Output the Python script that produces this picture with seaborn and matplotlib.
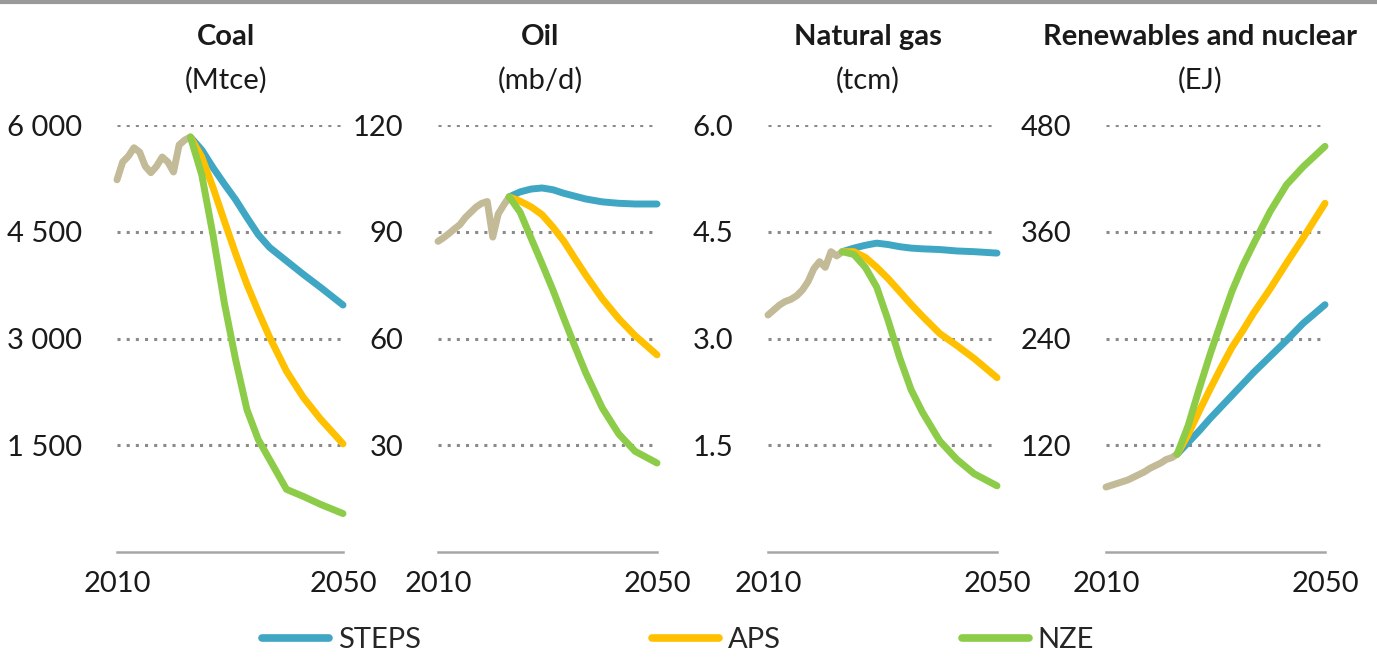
import pandas as pd
import matplotlib.pyplot as plt
import seaborn as sns
from matplotlib.lines import Line2D

# Historical years and projection years
hist_years = list(range(2010, 2024))
proj_years = [2023, 2025, 2027, 2029, 2031, 2033, 2035, 2037, 2040, 2043, 2046, 2050]

# Coal (Mtce)
coal_hist = [5230, 5480, 5560, 5680, 5620, 5420, 5330, 5420, 5550, 5480, 5340, 5720, 5790, 5830]
coal_steps = [5830, 5650, 5400, 5170, 4950, 4700, 4460, 4280, 4090, 3900, 3720, 3470]
coal_aps = [5830, 5550, 5120, 4650, 4190, 3760, 3380, 3020, 2540, 2170, 1870, 1520]
coal_nze = [5830, 5300, 4450, 3500, 2700, 2000, 1580, 1300, 880, 780, 670, 540]

# Oil (mb/d)
oil_hist = [87.3, 88.3, 89.5, 90.8, 92.0, 94.0, 95.5, 97.0, 98.0, 98.5, 88.5, 95.0, 97.5, 99.8]
oil_steps = [99.8, 101.2, 102.0, 102.3, 101.8, 100.8, 100.0, 99.2, 98.4, 98.0, 97.8, 97.8]
oil_aps = [99.8, 98.6, 97.0, 94.8, 91.3, 87.3, 82.5, 77.8, 71.2, 65.6, 60.8, 55.4]
oil_nze = [99.8, 95.5, 88.2, 81.0, 73.6, 65.6, 57.8, 50.3, 40.5, 33.2, 28.3, 25.0]

# Natural gas (tcm)
gas_hist = [3.33, 3.40, 3.47, 3.52, 3.55, 3.60, 3.68, 3.80, 3.98, 4.08, 4.00, 4.22, 4.16, 4.22]
gas_steps = [4.22, 4.27, 4.31, 4.34, 4.32, 4.29, 4.27, 4.26, 4.25, 4.23, 4.22, 4.20]
gas_aps = [4.22, 4.22, 4.14, 4.00, 3.84, 3.66, 3.48, 3.31, 3.07, 2.90, 2.72, 2.45]
gas_nze = [4.22, 4.18, 4.00, 3.72, 3.25, 2.73, 2.28, 1.96, 1.56, 1.30, 1.10, 0.93]

# Renewables and nuclear (EJ)
ren_hist = [73, 75, 77, 79, 81, 84, 87, 90, 94, 97, 100, 104, 106, 110]
ren_steps = [110, 123, 136, 150, 163, 176, 189, 202, 220, 238, 257, 278]
ren_aps = [110, 132, 158, 183, 207, 230, 249, 269, 296, 325, 353, 392]
ren_nze = [110, 142, 183, 222, 258, 293, 322, 347, 383, 413, 433, 456]

titles = ["Coal", "Oil", "Natural gas", "Renewables and nuclear"]
units = ["(Mtce)", "(mb/d)", "(tcm)", "(EJ)"]
yticks = [[1500, 3000, 4500, 6000], [30, 60, 90, 120], [1.5, 3.0, 4.5, 6.0], [120, 240, 360, 480]]
yticklabels = [["1 500", "3 000", "4 500", "6 000"], ["30", "60", "90", "120"],
               ["1.5", "3.0", "4.5", "6.0"], ["120", "240", "360", "480"]]

panels = [
    (coal_hist, coal_steps, coal_aps, coal_nze),
    (oil_hist, oil_steps, oil_aps, oil_nze),
    (gas_hist, gas_steps, gas_aps, gas_nze),
    (ren_hist, ren_steps, ren_aps, ren_nze),
]

palette = {"History": "#C3BA98", "STEPS": "#3FA7C4", "APS": "#FFC000", "NZE": "#8CCC48"}

sns.set_style("white")
plt.rcParams["font.family"] = ["Lato", "DejaVu Sans"]
FS = 21

W, H = 1377, 659
fig = plt.figure(figsize=(W / 100, H / 100), dpi=100)

# axis extents in pixels (left, right)
x_px = [(117, 343), (438, 657), (768, 997), (1106, 1325)]
bottom_px, top_px = 552, 125
title_x = [226, 540, 868, 1200]

for i, (hist, steps, aps, nze) in enumerate(panels):
    l, r = x_px[i]
    ax = fig.add_axes([l / W, 1 - bottom_px / H, (r - l) / W, (bottom_px - top_px) / H])

    frames = [pd.DataFrame({"year": hist_years, "value": hist, "scenario": "History"})]
    for name, vals in [("STEPS", steps), ("APS", aps), ("NZE", nze)]:
        frames.append(pd.DataFrame({"year": proj_years, "value": vals, "scenario": name}))
    df = pd.concat(frames, ignore_index=True)

    sns.lineplot(data=df, x="year", y="value", hue="scenario", palette=palette,
                 linewidth=5, legend=False, ax=ax, zorder=3)
    for ln in ax.lines:
        ln.set_clip_on(False)
        ln.set_solid_capstyle("round")
        ln.set_solid_joinstyle("round")

    ax.set_xlim(2010, 2050)
    ax.set_ylim(0, yticks[i][-1])
    ax.set_xticks([2010, 2050])
    ax.set_xticklabels(["2010", "2050"], fontsize=FS)
    ax.set_yticks(yticks[i])
    ax.set_yticklabels(yticklabels[i], fontsize=FS)
    ax.tick_params(axis="both", length=0, colors="#1a1a1a")
    ax.tick_params(axis="y", pad=25)
    ax.tick_params(axis="x", pad=14)
    ax.set_xlabel("")
    ax.set_ylabel("")
    ax.yaxis.grid(True, linestyle=(0, (1, 2)), color="#8a8a8a", linewidth=2.2)
    ax.xaxis.grid(False)
    for side in ["top", "right", "left"]:
        ax.spines[side].set_visible(False)
    ax.spines["bottom"].set_color("#a6a6a6")
    ax.spines["bottom"].set_linewidth(1.8)

    fig.text(title_x[i] / W, 1 - 37 / H, titles[i], ha="center", va="center",
             fontsize=FS, fontweight="bold", color="#1a1a1a")
    fig.text(title_x[i] / W, 1 - 80 / H, units[i], ha="center", va="center",
             fontsize=FS, color="#1a1a1a")

# top rule
fig.add_artist(Line2D([0, 1], [1 - 2 / H, 1 - 2 / H], color="#999999", linewidth=3,
                      transform=fig.transFigure))

# legend entries placed individually
for name, x0 in [("STEPS", 262), ("APS", 652), ("NZE", 962)]:
    h = Line2D([], [], color=palette[name], linewidth=5.5, solid_capstyle="round")
    fig.legend(handles=[h], labels=[name], loc="center left",
               bbox_to_anchor=(x0 / W, 1 - 640 / H), frameon=False, fontsize=FS,
               handlelength=2.3, handletextpad=0.3, borderpad=0, borderaxespad=0)

plt.savefig("out.png", dpi=100)
